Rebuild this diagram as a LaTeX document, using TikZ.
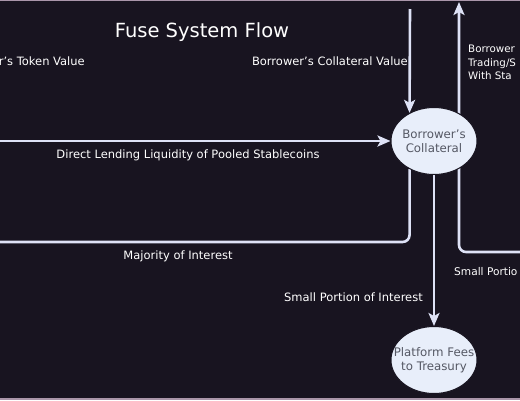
\documentclass[tikz,border=0pt]{standalone}
\usepackage{fontspec}
\setmainfont{DejaVu Sans}
\usepackage[rgb]{xcolor}
\definecolor{flowBack}{RGB}{24,20,32}
\definecolor{flowRim}{RGB}{170,150,170}
\definecolor{flowLine}{RGB}{222,226,246}
\definecolor{flowBody}{RGB}{232,238,250}
\definecolor{flowText}{RGB}{85,88,100}
\usepackage{tikz}
\usetikzlibrary{shapes}
\usetikzlibrary{arrows.meta}
\usetikzlibrary{positioning}
\usetikzlibrary{backgrounds}
\tikzstyle{FLOW} = [ellipse, fill=flowBody, draw=flowBack, line width=1pt, text=flowText,
  font=\fontsize{11.8}{14}\selectfont, align=center, minimum width=86pt, minimum height=67pt,
  inner xsep=-12pt, inner ysep=0pt]
\tikzstyle{LBL} = [text=white, font=\fontsize{11.5}{13.5}\selectfont, inner sep=0pt]
\tikzstyle{WIRE} = [draw=flowLine, line width=2.6pt, rounded corners=7pt, -{Stealth[length=13pt,width=11pt,inset=3pt]}]

\begin{document}
\begin{tikzpicture}[x=1pt, y=-1pt]
  \useasboundingbox (0,0) rectangle (520,400);
  \node [FLOW] (collateral) at (434,141) {Borrower's\\Collateral};
  \node [FLOW] (fees) at (434,360) {Platform Fees\\to Treasury};
  \coordinate (stableIn) at (0,141);
  \coordinate (valueIn) at (410,9);
  \coordinate (interestOut) at (0,242);
  \coordinate (portionIn) at (520,252);
  \coordinate (tradeOut) at (459,2);
  \node [LBL, font=\fontsize{19.5}{22}\selectfont] (title) at (202,32) {Fuse System Flow};
  \node [LBL, anchor=east] (tokenLbl) at (85,61) {r's Token Value};
  \node [LBL, anchor=east] (valueLbl) at (408,61) {Borrower's Collateral Value};
  \node [LBL] (stableLbl) at (188,155) {Direct Lending Liquidity of Pooled Stablecoins};
  \node [LBL] (majorLbl) at (178,256) {Majority of Interest};
  \node [LBL, anchor=east] (smallLbl) at (423,297) {Small Portion of Interest};
  \node [LBL, anchor=north west, align=left, font=\fontsize{10.3}{13.5}\selectfont] (tradeLbl) at (468,45) {Borrower\\Trading/S\\With Sta};
  \node [LBL, anchor=west, font=\fontsize{10.6}{13}\selectfont] (portionLbl) at (454,272) {Small Portio};
  \begin{scope}[on background layer]
    \fill [flowBack] (0,0) rectangle (520,400);
    \draw [flowRim, line width=1pt] (0,0.5) -- (520,0.5);
    \draw [flowRim, line width=1.5pt] (0,399.2) -- (520,399.2);
    \draw [WIRE] (stableIn) -- (collateral.west);
    \draw [WIRE] (valueIn) -- (collateral.131);
    \draw [WIRE, -] (collateral.229) |- (interestOut);
    \draw [WIRE] (collateral.south) -- (fees.north);
    \draw [WIRE] (portionIn) -| (tradeOut);
  \end{scope}
\end{tikzpicture}
\end{document}
